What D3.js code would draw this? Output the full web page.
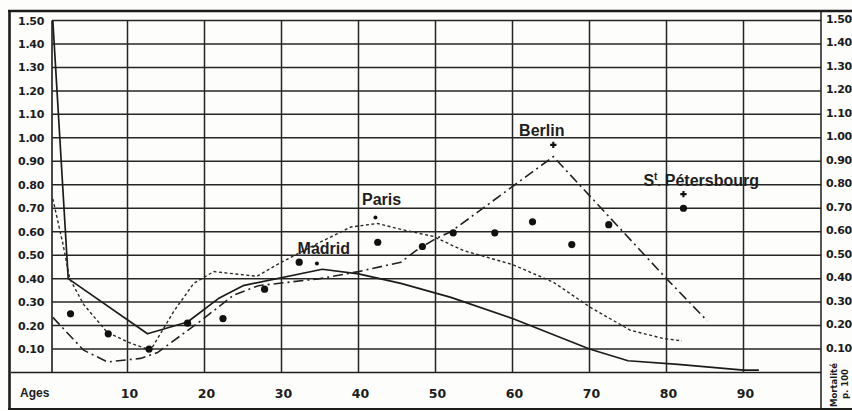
<!DOCTYPE html>
<html>
<head>
<meta charset="utf-8">
<script src="https://cdn.jsdelivr.net/npm/d3@7"></script>
<style>
  html, body { margin: 0; padding: 0; background: #fdfdfb; }
  svg { display: block; }
</style>
</head>
<body>
<svg id="chart" width="852" height="411"></svg>
<script>
// Mortality per 100 inhabitants by age, for several European capitals.

// Axis ticks
const ageTicks = [10, 20, 30, 40, 50, 60, 70, 80, 90];
const rateTicks = [0.10, 0.20, 0.30, 0.40, 0.50, 0.60, 0.70, 0.80, 0.90, 1.00, 1.10, 1.20, 1.30, 1.40, 1.50];

// Solid curve
const solidAges  = [0.3, 2.3, 12.6, 17.8, 21.8, 25, 35.3, 40, 45.5, 52, 60, 70, 75, 81.5, 90, 92];
const solidRates = [1.50, 0.40, 0.165, 0.215, 0.315, 0.37, 0.44, 0.42, 0.38, 0.32, 0.23, 0.10, 0.05, 0.035, 0.01, 0.01];

// Paris (short dashes)
const parisAges  = [0.3, 1.6, 2.5, 4.3, 7.4, 10.4, 13, 16, 18.6, 21.2, 26.8, 30, 34.7, 39, 42.5, 45.5, 49.7, 53.6, 60, 65.3, 70, 75.3, 79.6, 82];
const parisRates = [0.74, 0.55, 0.40, 0.29, 0.17, 0.125, 0.095, 0.26, 0.38, 0.43, 0.41, 0.47, 0.55, 0.62, 0.635, 0.61, 0.58, 0.52, 0.46, 0.385, 0.28, 0.18, 0.145, 0.135];

// Berlin (dash-dot)
const berlinAges  = [0.3, 4.3, 7.4, 11.7, 13.9, 19.5, 23.8, 27, 35, 40, 45.5, 47.5, 50, 52, 65.3, 80, 85.3];
const berlinRates = [0.235, 0.095, 0.045, 0.06, 0.085, 0.22, 0.33, 0.37, 0.40, 0.43, 0.47, 0.52, 0.57, 0.60, 0.92, 0.40, 0.22];

// Isolated observations (filled dots)
const dotAges  = [2.6, 7.5, 12.8, 17.8, 22.4, 27.8, 32.3, 42.5, 48.3, 52.3, 57.7, 62.6, 67.7, 72.5, 82.2];
const dotRates = [0.25, 0.165, 0.10, 0.21, 0.23, 0.355, 0.47, 0.555, 0.537, 0.595, 0.595, 0.642, 0.545, 0.63, 0.70];

// City markers and their names
const cityNames   = ["Madrid", "Paris", "Berlin", "Pétersbourg"];
const cityAges    = [34.6, 42.2, 65.3, 82.2];
const cityRates   = [0.465, 0.66, 0.97, 0.76];
const cityMarks   = ["dot", "dot", "plus", "plus"];
const cityLabelAges  = [35.5, 43.0, 63.8, 77.0];
const cityLabelRates = [0.505, 0.713, 1.008, 0.795];

const svg = d3.select("#chart");
const ink = "#1c1c1c";

const x = d3.scaleLinear().domain([0, 100]).range([50.5, 820.5]);
const y = d3.scaleLinear().domain([0, 1.5]).range([372.5, 20.5]);

const plotLeft = 52, plotRight = 821;

// Outer frame
const frame = svg.append("g").attr("stroke", ink).attr("fill", "none");
frame.append("line").attr("x1", 8).attr("x2", 852).attr("y1", 11).attr("y2", 11).attr("stroke-width", 2.6);
frame.append("line").attr("x1", 9.5).attr("x2", 9.5).attr("y1", 10).attr("y2", 410).attr("stroke-width", 2.6);
frame.append("line").attr("x1", 8).attr("x2", 852).attr("y1", 409).attr("y2", 409).attr("stroke-width", 2);
frame.append("line").attr("x1", plotRight).attr("x2", plotRight).attr("y1", 11).attr("y2", 409).attr("stroke-width", 1.5);
frame.append("line").attr("x1", 11).attr("x2", plotRight).attr("y1", y(0)).attr("y2", y(0)).attr("stroke-width", 1.6);
frame.append("line").attr("x1", plotLeft).attr("x2", plotLeft).attr("y1", y(1.5)).attr("y2", y(0)).attr("stroke-width", 1.6);

// Grid
const grid = svg.append("g").attr("stroke", "#262626").attr("stroke-width", 1.5);
grid.selectAll("line.h").data(rateTicks).join("line")
  .attr("class", "h")
  .attr("x1", plotLeft).attr("x2", plotRight)
  .attr("y1", d => y(d)).attr("y2", d => y(d));
grid.selectAll("line.v").data(ageTicks).join("line")
  .attr("class", "v")
  .attr("x1", d => x(d)).attr("x2", d => x(d))
  .attr("y1", y(1.5)).attr("y2", y(0));

// Rate labels, both sides
const tickFont = "'DejaVu Sans', Verdana, sans-serif";
const fmt = d3.format(".2f");
svg.append("g").selectAll("text").data(rateTicks).join("text")
  .attr("x", 44).attr("y", d => y(d) + 0.5)
  .attr("text-anchor", "end").attr("dominant-baseline", "central")
  .attr("font-family", tickFont).attr("font-weight", "bold").attr("font-size", 11)
  .attr("letter-spacing", -0.3)
  .attr("fill", ink).text(d => fmt(d));
svg.append("g").selectAll("text").data(rateTicks).join("text")
  .attr("x", 826).attr("y", d => y(d) - 1)
  .attr("text-anchor", "start").attr("dominant-baseline", "central")
  .attr("font-family", tickFont).attr("font-weight", "bold").attr("font-size", 11)
  .attr("letter-spacing", -0.3)
  .attr("fill", ink).text(d => fmt(d));

// Age labels
svg.append("text").attr("x", 20).attr("y", 393)
  .attr("dominant-baseline", "central")
  .attr("font-family", "'Liberation Sans', Arial, sans-serif").attr("font-weight", "bold").attr("font-size", 12)
  .attr("fill", ink).text("Ages");
svg.append("g").selectAll("text").data(ageTicks).join("text")
  .attr("x", d => x(d) + 2).attr("y", 393)
  .attr("text-anchor", "middle").attr("dominant-baseline", "central")
  .attr("font-family", tickFont).attr("font-weight", "bold").attr("font-size", 12.5)
  .attr("fill", ink).text(d => d);

// Unit caption, rotated
const unit = svg.append("text")
  .attr("transform", "translate(837,407) rotate(-90)")
  .attr("font-family", tickFont).attr("font-weight", "bold").attr("font-size", 8.5)
  .attr("fill", ink);
unit.append("tspan").attr("x", 0).attr("y", 0).text("Mortalité");
unit.append("tspan").attr("x", 8).attr("y", 11).text("p. 100");

// Curves
const line = d3.line().x(d => x(d[0])).y(d => y(d[1]));
const zip = (a, b) => a.map((v, i) => [v, b[i]]);

svg.append("path").datum(zip(solidAges, solidRates))
  .attr("d", line).attr("fill", "none").attr("stroke", ink).attr("stroke-width", 1.7)
  .attr("stroke-linejoin", "round");
svg.append("path").datum(zip(parisAges, parisRates))
  .attr("d", line).attr("fill", "none").attr("stroke", "#2a2a2a").attr("stroke-width", 1.4)
  .attr("stroke-dasharray", "3,2.5");
svg.append("path").datum(zip(berlinAges, berlinRates))
  .attr("d", line).attr("fill", "none").attr("stroke", "#222").attr("stroke-width", 1.6)
  .attr("stroke-dasharray", "10,4,2,4");

// Dots
svg.append("g").selectAll("circle").data(zip(dotAges, dotRates)).join("circle")
  .attr("cx", d => x(d[0])).attr("cy", d => y(d[1])).attr("r", 3.6).attr("fill", "#111");

// City markers
const cityData = cityNames.map((n, i) => ({
  name: n, age: cityAges[i], rate: cityRates[i], mark: cityMarks[i],
  la: cityLabelAges[i], lr: cityLabelRates[i]
}));
const marks = svg.append("g").attr("fill", "#111").attr("stroke", "#111");
marks.selectAll("circle").data(cityData.filter(d => d.mark === "dot")).join("circle")
  .attr("cx", d => x(d.age)).attr("cy", d => y(d.rate)).attr("r", 2).attr("stroke", "none");
marks.selectAll("path").data(cityData.filter(d => d.mark === "plus")).join("path")
  .attr("d", d3.symbol(d3.symbolCross, 22))
  .attr("transform", d => `translate(${x(d.age)},${y(d.rate)})`)
  .attr("stroke", "none");

// City names
const labelFont = "'Liberation Sans', Arial, sans-serif";
const labels = svg.append("g")
  .attr("font-family", labelFont).attr("font-weight", "bold").attr("font-size", 16)
  .attr("fill", "#1e1e1e");
labels.selectAll("text").data(cityData.filter(d => d.name !== "Pétersbourg")).join("text")
  .attr("x", d => x(d.la)).attr("y", d => y(d.lr))
  .attr("text-anchor", "middle").text(d => d.name);
const spb = cityData.find(d => d.name === "Pétersbourg");
const spbText = labels.append("text").attr("x", x(spb.la)).attr("y", y(spb.lr));
spbText.append("tspan").text("S");
spbText.append("tspan").attr("font-size", 10).attr("dy", -6).text("t");
spbText.append("tspan").attr("font-size", 12).attr("dy", 6).text(".");
spbText.append("tspan").attr("dx", 4).text(spb.name);
</script>
</body>
</html>
